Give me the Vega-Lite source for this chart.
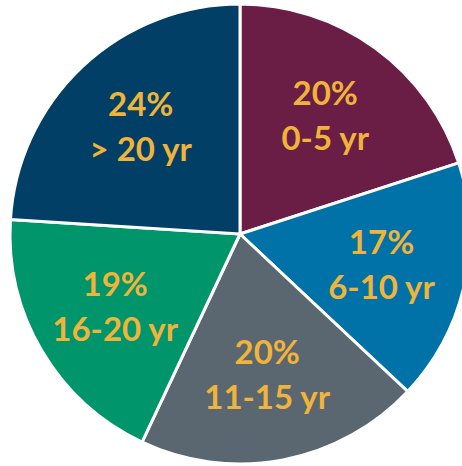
{
  "$schema": "https://vega.github.io/schema/vega-lite/v6.json",
  "width": 480,
  "height": 468,
  "autosize": "none",
  "padding": 0,
  "background": "white",
  "config": {"view": {"stroke": null}},
  "data": {
    "values": [
      {"idx": 1, "group": "0-5 yr", "pct": 20, "label": "20%\n0-5 yr"},
      {"idx": 2, "group": "6-10 yr", "pct": 17, "label": "17%\n6-10 yr"},
      {"idx": 3, "group": "11-15 yr", "pct": 20, "label": "20%\n11-15 yr"},
      {"idx": 4, "group": "16-20 yr", "pct": 19, "label": "19%\n16-20 yr"},
      {"idx": 5, "group": "> 20 yr", "pct": 24, "label": "24%\n> 20 yr"}
    ]
  },
  "encoding": {
    "theta": {"field": "pct", "type": "quantitative", "stack": true},
    "order": {"field": "idx", "type": "quantitative"},
    "color": {
      "field": "group",
      "type": "nominal",
      "scale": {
        "domain": ["0-5 yr", "6-10 yr", "11-15 yr", "16-20 yr", "> 20 yr"],
        "range": ["#6A1E45", "#0072A7", "#5B6770", "#00956A", "#023F66"]
      },
      "legend": null
    }
  },
  "layer": [
    {
      "mark": {"type": "arc", "radius": 230, "stroke": "white", "strokeWidth": 3}
    },
    {
      "mark": {
        "type": "text",
        "radius": 145,
        "dy": -22,
        "font": "Lato",
        "fontWeight": "bold",
        "fontSize": 33,
        "lineHeight": 45,
        "lineBreak": "\n",
        "align": "center",
        "baseline": "middle",
        "fill": "#F0B43A"
      },
      "encoding": {
        "text": {"field": "label"},
        "color": {"value": "#F0B43A"}
      }
    }
  ]
}
